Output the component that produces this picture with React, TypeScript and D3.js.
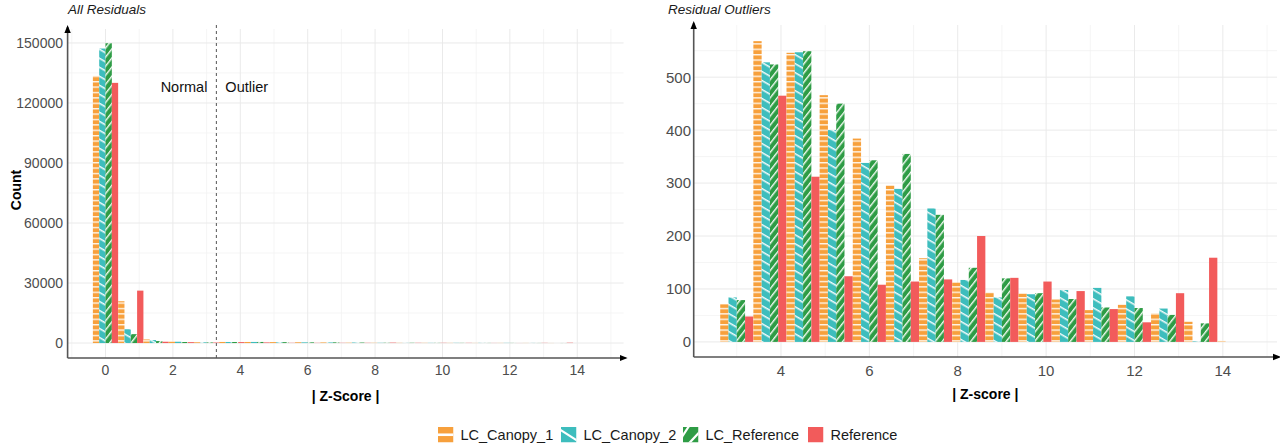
import * as d3 from 'd3'

const series = ['LC_Canopy_1', 'LC_Canopy_2', 'LC_Reference', 'Reference']
const seriesColors = ['#F7A03C', '#3DBDBD', '#2E9C45', '#F25B5B']

// histogram of |z|, bins 0.75 wide (bin centres)
const binWidth = 0.75
const allBins = [0, 0.75, 1.5, 2.25, 3, 3.75, 4.5, 5.25, 6, 6.75, 7.5, 8.25, 9, 9.75, 10.5, 11.25, 12, 12.75, 13.5, 14.25]
const allCanopy1 = [133500, 20900, 1800, 750, 380, 568, 546, 466, 384, 295, 158, 112, 93, 91, 80, 60, 70, 54, 38, 2]
const allCanopy2 = [147200, 6900, 1500, 650, 350, 528, 547, 400, 338, 289, 252, 117, 84, 90, 98, 102, 86, 63, 1, 0]
const allLCRef = [149850, 4450, 1000, 520, 300, 524, 549, 450, 343, 355, 240, 140, 120, 92, 81, 65, 64, 51, 35, 0]
const allRef = [130050, 26200, 650, 450, 250, 465, 312, 124, 108, 114, 118, 200, 121, 114, 96, 62, 37, 92, 159, 0]

const outlierBins = [3, 3.75, 4.5, 5.25, 6, 6.75, 7.5, 8.25, 9, 9.75, 10.5, 11.25, 12, 12.75, 13.5, 14.25]
const outCanopy1 = [71, 568, 546, 466, 384, 295, 158, 112, 93, 91, 80, 60, 70, 54, 38, 2]
const outCanopy2 = [84, 528, 547, 400, 338, 289, 252, 117, 84, 90, 98, 102, 86, 63, 1, 0]
const outLCRef = [79, 524, 549, 450, 343, 355, 240, 140, 120, 92, 81, 65, 64, 51, 35, 0]
const outRef = [48, 465, 312, 124, 108, 114, 118, 200, 121, 114, 96, 62, 37, 92, 159, 0]

const countTicks = [0, 30000, 60000, 90000, 120000, 150000]
const zTicksAll = [0, 2, 4, 6, 8, 10, 12, 14]
const outTicks = [0, 100, 200, 300, 400, 500]
const zTicksOut = [4, 6, 8, 10, 12, 14]
const threshold = 3.29

const font = '"Liberation Sans", Arial, sans-serif'
const tickColor = '#4D4D4D'

const midpoints = (t: number[]) => {
  const step = t[1] - t[0]
  return [t[0] - step / 2, ...t.map((v) => v + step / 2)]
}

interface PanelProps {
  id: string
  bins: number[]
  values: number[][]
  x: d3.ScaleLinear<number, number>
  y: d3.ScaleLinear<number, number>
  xTicks: number[]
  yTicks: number[]
  tickSize: number
  yLabelX: number
  xLabelY: number
  title: string
  titleX: number
  xTitle: string
  xTitleY: number
}

function Panel({ id, bins, values, x, y, xTicks, yTicks, tickSize, yLabelX, xLabelY, title, titleX, xTitle, xTitleY }: PanelProps) {
  const [x0, x1] = x.range()
  const [yb, yt] = y.range()
  const [dx0, dx1] = x.domain()
  const [dy0, dy1] = y.domain()
  const xMinor = midpoints(xTicks).filter((v) => v > dx0 && v < dx1)
  const yMinor = midpoints(yTicks).filter((v) => v > dy0 && v < dy1)
  const binPx = x(binWidth) - x(0)
  const sub = d3.scaleBand<string>().domain(series).range([0, binPx])

  return (
    <g>
      {xMinor.map((v) => (
        <line key={'xm' + v} x1={x(v)} x2={x(v)} y1={yt} y2={yb} stroke="#F3F3F3" strokeWidth={0.8} />
      ))}
      {yMinor.map((v) => (
        <line key={'ym' + v} x1={x0} x2={x1} y1={y(v)} y2={y(v)} stroke="#F3F3F3" strokeWidth={0.8} />
      ))}
      {xTicks.map((v) => (
        <line key={'xg' + v} x1={x(v)} x2={x(v)} y1={yt} y2={yb} stroke="#EAEAEA" strokeWidth={1} />
      ))}
      {yTicks.map((v) => (
        <line key={'yg' + v} x1={x0} x2={x1} y1={y(v)} y2={y(v)} stroke="#EAEAEA" strokeWidth={1} />
      ))}

      {bins.map((b, i) =>
        series.map((s, si) => {
          const v = values[si][i]
          if (!v) return null
          return (
            <rect
              key={s + i}
              x={x(b - binWidth / 2) + (sub(s) ?? 0)}
              width={sub.bandwidth()}
              y={y(v)}
              height={y(0) - y(v)}
              fill={`url(#${id}-pat${si})`}
            />
          )
        })
      )}

      {/* axes */}
      <line x1={x0} x2={x1 + 2} y1={yb} y2={yb} stroke="#555" strokeWidth={1.6} markerEnd="url(#arrow)" />
      <line x1={x0} x2={x0} y1={yb} y2={yt - 2} stroke="#555" strokeWidth={1.6} markerEnd="url(#arrow)" />

      {xTicks.map((v) => (
        <text key={'xl' + v} x={x(v)} y={xLabelY} textAnchor="middle" fontSize={tickSize} fill={tickColor} fontFamily={font}>
          {v}
        </text>
      ))}
      {yTicks.map((v) => (
        <text key={'yl' + v} x={yLabelX} y={y(v)} dy="0.36em" textAnchor="end" fontSize={tickSize} fill={tickColor} fontFamily={font}>
          {v}
        </text>
      ))}

      <text x={titleX} y={14} fontSize={13.5} fontStyle="italic" fontFamily={font} fill="#1a1a1a">
        {title}
      </text>
      <text x={(x0 + x1) / 2} y={xTitleY} textAnchor="middle" fontSize={14} fontWeight="bold" fontFamily={font} fill="#000">
        {xTitle}
      </text>
    </g>
  )
}

function Patterns({ id }: { id: string }) {
  return (
    <>
      <pattern id={`${id}-pat0`} patternUnits="userSpaceOnUse" width={8} height={5.4}>
        <rect width={8} height={5.4} fill={seriesColors[0]} />
        <rect y={0} width={8} height={1.4} fill="#FFF4E6" />
      </pattern>
      <pattern id={`${id}-pat1`} patternUnits="userSpaceOnUse" width={10} height={7.8} patternTransform="rotate(30)">
        <rect width={10} height={7.8} fill={seriesColors[1]} />
        <rect y={0} width={10} height={1.5} fill="#F2FBFB" />
      </pattern>
      <pattern id={`${id}-pat2`} patternUnits="userSpaceOnUse" width={10} height={5.6} patternTransform="rotate(-52)">
        <rect width={10} height={5.6} fill={seriesColors[2]} />
        <rect y={0} width={10} height={1.4} fill="#F2FAF3" />
      </pattern>
      <pattern id={`${id}-pat3`} patternUnits="userSpaceOnUse" width={8} height={8}>
        <rect width={8} height={8} fill={seriesColors[3]} />
      </pattern>
    </>
  )
}

const legendX = [438, 561, 683, 808]

function Legend() {
  const y0 = 427
  const k = 15.5
  return (
    <g>
      {series.map((s, i) => {
        const lx = legendX[i]
        return (
          <g key={s}>
            <clipPath id={`lk${i}`}>
              <rect x={lx} y={y0} width={k} height={k} />
            </clipPath>
            <g clipPath={`url(#lk${i})`}>
              <rect x={lx} y={y0} width={k} height={k} fill={seriesColors[i]} />
              {i === 0 && <rect x={lx} y={y0 + k / 2 - 1.3} width={k} height={2.6} fill="#fff" />}
              {i === 1 && <line x1={lx - 2} y1={y0 + 2} x2={lx + k + 2} y2={y0 + k - 1} stroke="#fff" strokeWidth={2.2} />}
              {i === 2 && (
                <>
                  <line x1={lx - 4} y1={y0 + k - 1} x2={lx + 8} y2={y0 - 4} stroke="#fff" strokeWidth={2.2} />
                  <line x1={lx + 3} y1={y0 + k + 4} x2={lx + k + 4} y2={y0 + 2} stroke="#fff" strokeWidth={2.2} />
                </>
              )}
            </g>
            <text x={lx + k + 7} y={y0 + 13} fontSize={14.5} fontFamily={font} fill="#1a1a1a">
              {s}
            </text>
          </g>
        )
      })}
    </g>
  )
}

export default function App() {
  const xAll = d3.scaleLinear().domain([-1.125, 15.375]).range([67.6, 623.6])
  const yAll = d3.scaleLinear().domain([-7475, 156975]).range([358, 29])
  const xOut = d3.scaleLinear().domain([2.025, 15.225]).range([693.7, 1277])
  const yOut = d3.scaleLinear().domain([-28.5, 598.5]).range([357, 25])

  const allValues = [allCanopy1, allCanopy2, allLCRef, allRef]
  const outValues = [outCanopy1, outCanopy2, outLCRef, outRef]

  return (
    <svg width={1280} height={448} style={{ position: 'absolute', left: 0, top: 0, background: '#fff' }}>
      <defs>
        <marker id="arrow" viewBox="0 0 8 8" refX={6} refY={4} markerWidth={8} markerHeight={8} markerUnits="userSpaceOnUse" orient="auto">
          <path d="M0,0.8 L8,4 L0,7.2 Z" fill="#000" />
        </marker>
        <Patterns id="a" />
        <Patterns id="o" />
      </defs>

      <Panel
        id="a"
        bins={allBins}
        values={allValues}
        x={xAll}
        y={yAll}
        xTicks={zTicksAll}
        yTicks={countTicks}
        tickSize={14}
        yLabelX={63}
        xLabelY={375}
        title="All Residuals"
        titleX={68}
        xTitle="| Z-Score |"
        xTitleY={401}
      />
      <line x1={xAll(threshold)} x2={xAll(threshold)} y1={25} y2={358} stroke="#555" strokeWidth={1} strokeDasharray="3,3" />
      <text x={xAll(threshold) - 9} y={92} textAnchor="end" fontSize={14.5} fontFamily={font} fill="#111">
        Normal
      </text>
      <text x={xAll(threshold) + 9} y={92} fontSize={14.5} fontFamily={font} fill="#111">
        Outlier
      </text>
      <text transform="translate(21,190) rotate(-90)" textAnchor="middle" fontSize={14} fontWeight="bold" fontFamily={font} fill="#000">
        Count
      </text>

      <Panel
        id="o"
        bins={outlierBins}
        values={outValues}
        x={xOut}
        y={yOut}
        xTicks={zTicksOut}
        yTicks={outTicks}
        tickSize={15}
        yLabelX={691}
        xLabelY={376}
        title="Residual Outliers"
        titleX={668}
        xTitle="| Z-score |"
        xTitleY={399}
      />

      <Legend />
    </svg>
  )
}
